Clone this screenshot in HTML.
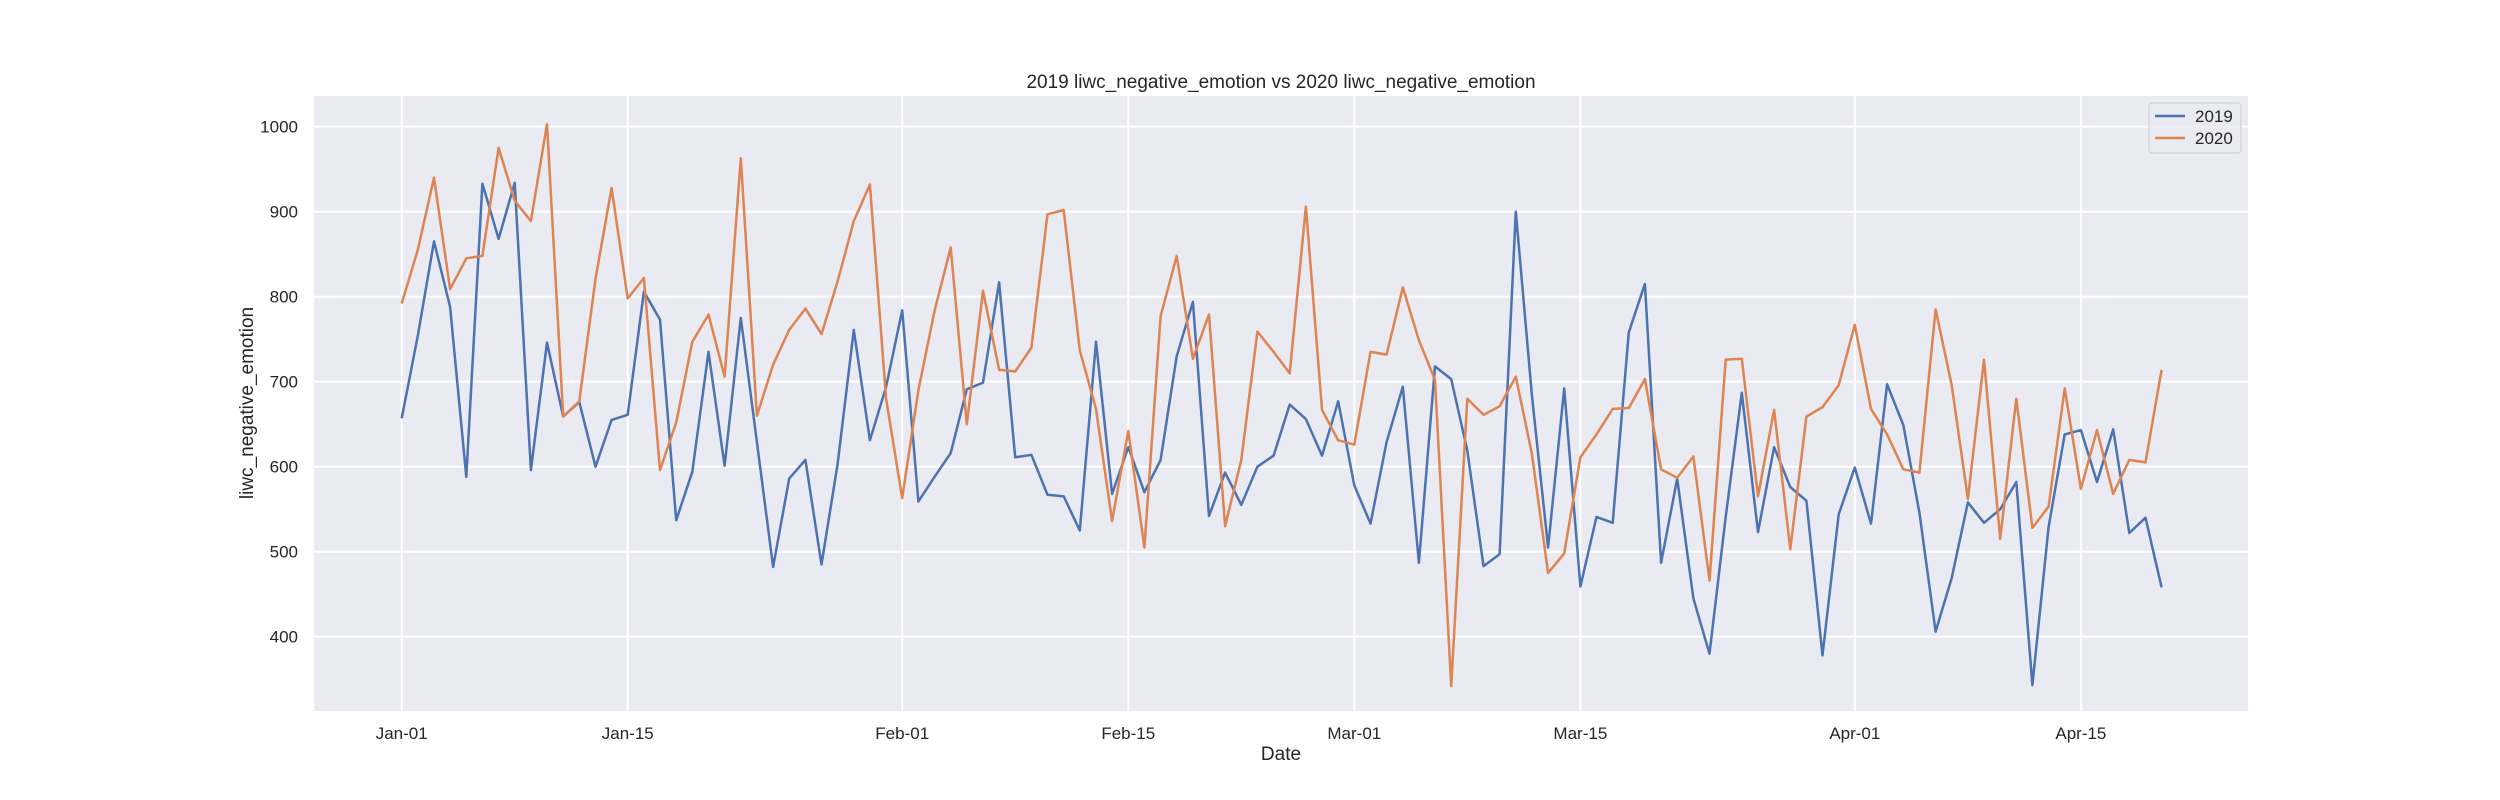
<!DOCTYPE html>
<html><head><meta charset="utf-8"><style>
html,body{margin:0;padding:0;background:#fff;}
svg{display:block;font-family:"Liberation Sans","DejaVu Sans",sans-serif;}
</style></head><body>
<svg id="chart" width="2500" height="800" xmlns="http://www.w3.org/2000/svg">
<rect x="0" y="0" width="2500" height="800" fill="#ffffff"/>
<rect x="314" y="96" width="1934" height="615" fill="#eaeaf2"/>
<g id="grid"></g>
<g id="series"></g>
<g id="ticks"></g>
<text x="1281" y="88" font-size="19" fill="#262626" text-anchor="middle">2019 liwc_negative_emotion vs 2020 liwc_negative_emotion</text>
<text x="1281" y="760" font-size="19" fill="#262626" text-anchor="middle">Date</text>
<text x="0" y="0" font-size="19" fill="#262626" text-anchor="middle" transform="translate(253,403) rotate(-90)">liwc_negative_emotion</text>
<g>
<rect x="2149" y="103" width="92" height="50" rx="3" fill="#eaeaf2" fill-opacity="0.8" stroke="#cccccc"/>
<line x1="2155" y1="116" x2="2185" y2="116" stroke="#4c72b0" stroke-width="2.5"/>
<text x="2195" y="122" font-size="17" fill="#262626">2019</text>
<line x1="2155" y1="138" x2="2185" y2="138" stroke="#dd8452" stroke-width="2.5"/>
<text x="2195" y="144" font-size="17" fill="#262626">2020</text>
</g>
</svg>
<script>
const values2019 = [657,754,865,788,588,933,868,934,596,746,659,676,600,655,661,806,773,537,594,
735,601,775,629,482,586,608,485,603,761,631,694,784,559,588,616,691,699,
817,611,614,567,565,525,747,568,623,570,608,730,794,542,593,555,600,613,673,
656,613,677,578,533,629,694,487,718,703,619,483,497,900,684,505,692,459,
541,534,758,815,487,586,445,380,541,687,523,623,576,560,378,544,599,533,697,
649,546,406,469,558,534,550,582,343,529,638,643,582,644,522,540,458];
const values2020 = [792,855,940,809,845,848,975,913,889,1003,659,677,821,928,798,822,596,652,747,
779,706,963,660,720,761,786,756,818,889,932,680,563,690,783,858,650,807,
714,712,740,897,902,737,668,536,642,505,777,848,727,779,530,608,759,735,710,
906,667,631,626,735,732,811,749,702,342,680,661,671,706,615,475,498,611,
638,668,669,703,597,587,612,466,726,727,565,667,503,659,670,696,767,668,638,
597,593,785,696,562,726,515,680,528,553,692,574,643,568,608,605,714];
const xTickDays = [0,14,31,45,59,73,90,104];
const xTickLabels = ["Jan-01","Jan-15","Feb-01","Feb-15","Mar-01","Mar-15","Apr-01","Apr-15"];
const yTicks = [400,500,600,700,800,900,1000];

const NS = "http://www.w3.org/2000/svg";
function xScale(d){ return 401.7 + d*16.146; }
function yScale(v){ return 126.7 + (1000 - v)*0.85; }
const grid = document.getElementById('grid');
const ticks = document.getElementById('ticks');
const series = document.getElementById('series');

yTicks.forEach(v=>{
  const l = document.createElementNS(NS,'line');
  l.setAttribute('x1',314); l.setAttribute('x2',2248);
  l.setAttribute('y1',yScale(v)); l.setAttribute('y2',yScale(v));
  l.setAttribute('stroke','#ffffff'); l.setAttribute('stroke-width','2');
  
  
  grid.appendChild(l);
  const t = document.createElementNS(NS,'text');
  t.setAttribute('x',298); t.setAttribute('y',yScale(v)+6);
  t.setAttribute('font-size','17'); t.setAttribute('fill','#262626');
  t.setAttribute('text-anchor','end');
  t.textContent = v;
  
  
  ticks.appendChild(t);
});
xTickDays.forEach((d,i)=>{
  const l = document.createElementNS(NS,'line');
  l.setAttribute('y1',96); l.setAttribute('y2',711);
  l.setAttribute('x1',xScale(d)); l.setAttribute('x2',xScale(d));
  l.setAttribute('stroke','#ffffff'); l.setAttribute('stroke-width','2');
  
  
  grid.appendChild(l);
  const t = document.createElementNS(NS,'text');
  t.setAttribute('x',xScale(d)); t.setAttribute('y',739);
  t.setAttribute('font-size','17'); t.setAttribute('fill','#262626');
  t.setAttribute('text-anchor','middle');
  t.textContent = xTickLabels[i];
  
  
  ticks.appendChild(t);
});
function drawLine(vals,color,name){
  const p = document.createElementNS(NS,'polyline');
  p.setAttribute('points', vals.map((v,i)=>xScale(i).toFixed(1)+','+yScale(v).toFixed(1)).join(' '));
  p.setAttribute('fill','none'); p.setAttribute('stroke',color);
  p.setAttribute('stroke-width','2.5'); p.setAttribute('stroke-linejoin','round');
  
  
  series.appendChild(p);
}
drawLine(values2019,'#4c72b0','series-2019-line');
drawLine(values2020,'#dd8452','series-2020-line');
</script>
</body></html>
